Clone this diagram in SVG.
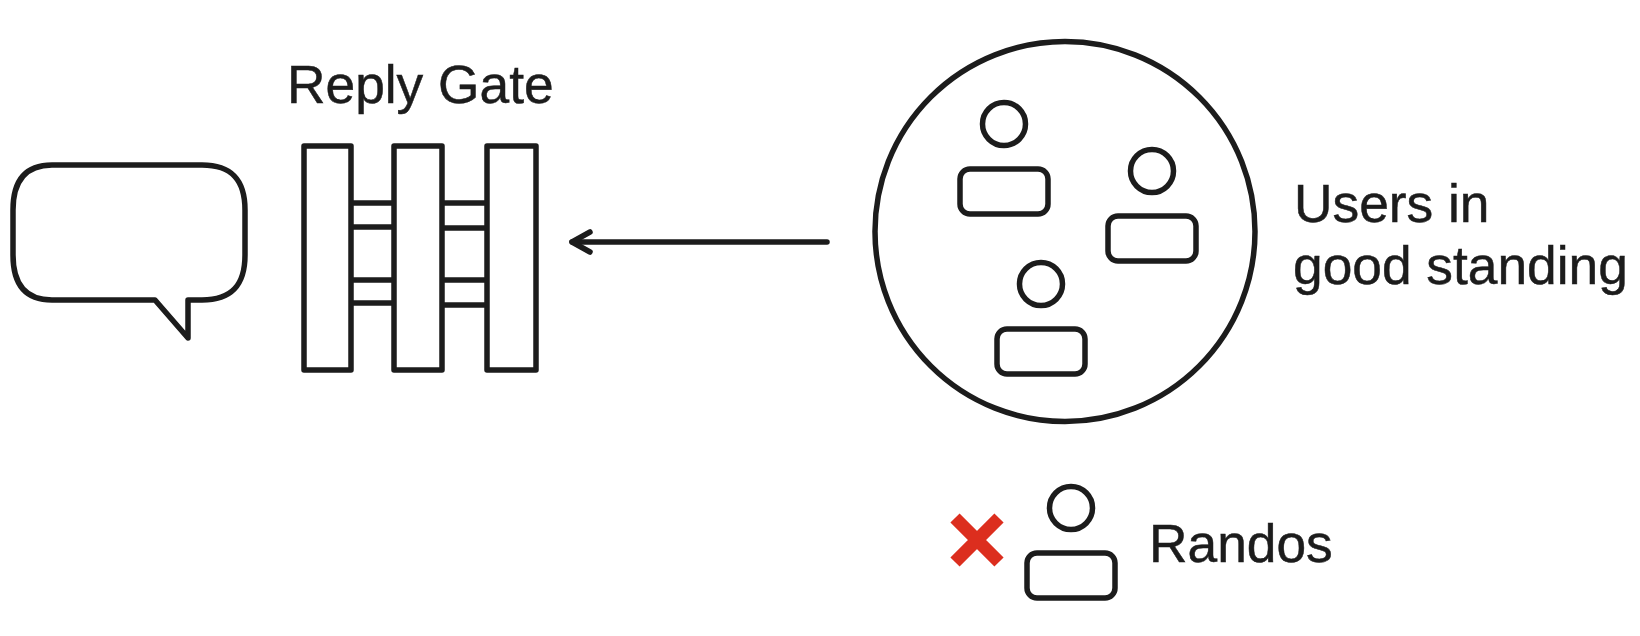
<svg xmlns="http://www.w3.org/2000/svg" width="1640" height="636" viewBox="0 0 1640 636">
<style>
.s{fill:none;stroke:#1c1c1c;stroke-width:5.5;stroke-linejoin:round;stroke-linecap:round}
.b{fill:none;stroke:#1c1c1c;stroke-width:5.5;stroke-linejoin:round}
.t{font-family:"Liberation Sans",Arial,sans-serif;font-size:53.3px;fill:#1c1c1c;stroke:#1c1c1c;stroke-width:.5}
</style>
<defs>
<g id="person"><circle cx="0" cy="0" r="21.5" class="s"/><rect x="-44" y="45" width="88" height="45" rx="10" class="s"/></g>
</defs>
<rect width="1640" height="636" fill="#fff"/>
<g id="bubble"><path class="s" d="M52 165H202C232 165 245 180 245 210V255C245 285 232 300 202 300H188V338L155 300H52C26 300 13 285 13 255V210C13 180 26 165 52 165Z"/></g>
<g id="gate">
<text class="t" x="287" y="103">Reply Gate</text>
<rect class="b" x="304" y="146" width="47" height="224"/>
<rect class="b" x="394" y="146" width="48" height="224"/>
<rect class="b" x="487" y="146" width="49" height="224"/>
<path class="b" d="M351 203H394M351 227H394M351 280H394M351 303H394M442 203H487M442 228H487M442 280H487M442 305H487"/>
</g>
<g id="connectors">
<path class="s" d="M827 242H572"/>
<path class="s" d="M590 232L572 242L590 252"/>
</g>
<g id="users">
<circle cx="1065" cy="231.5" r="190" class="s"/>
<use href="#person" x="1004" y="124"/>
<use href="#person" x="1152" y="171"/>
<use href="#person" x="1041" y="284"/>
<text class="t" x="1294" y="222">Users in</text>
<text class="t" x="1293" y="284">good standing</text>
</g>
<g id="randos">
<path d="M955 518L999 562M999 518L955 562" fill="none" stroke="#dc2e1e" stroke-width="13"/>
<use href="#person" x="1071" y="508"/>
<text class="t" x="1149" y="562">Randos</text>
</g>
</svg>
